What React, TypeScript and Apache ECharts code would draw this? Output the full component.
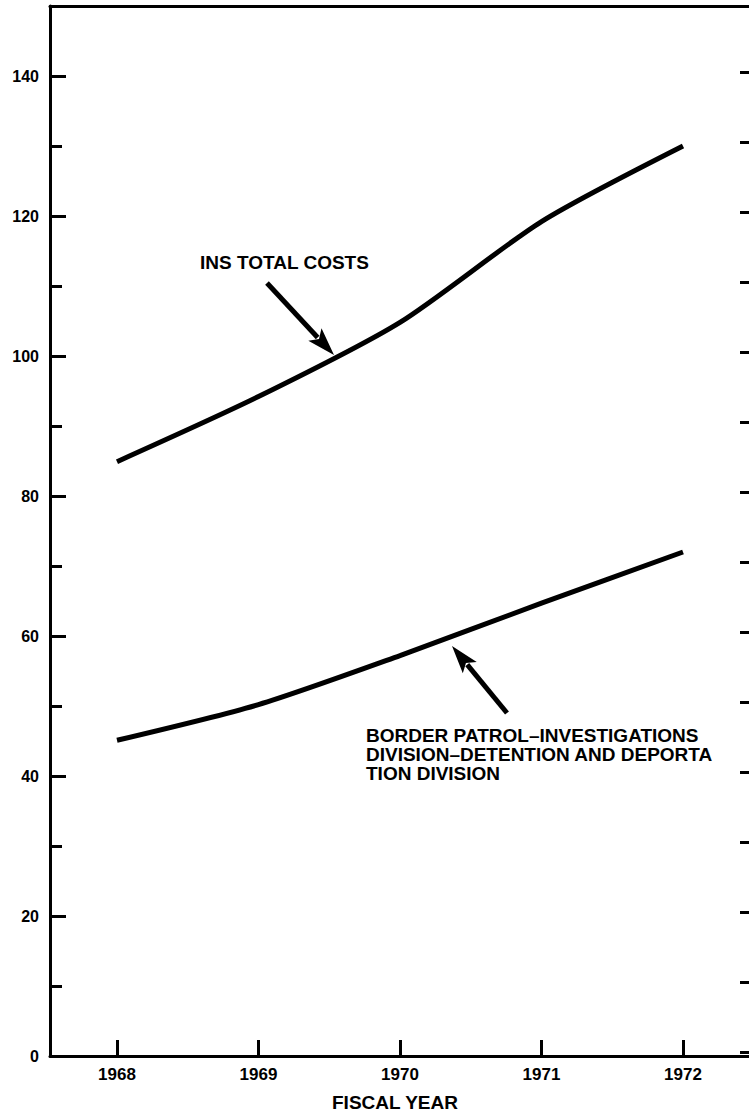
import React, { useEffect, useRef } from "react";
import * as echarts from "echarts";

const years = [1968, 1969, 1970, 1971, 1972];
const insTotalCosts = [84.9, 94.2, 104.8, 119.2, 130.0];
const borderPatrolCosts = [45.1, 50.2, 57.2, 64.7, 72.0];
const yLabelValues = [0, 20, 40, 60, 80, 100, 120, 140];

const insLabel = "INS TOTAL COSTS";
const borderLabelLines = [
  "BORDER PATROL\u2013INVESTIGATIONS",
  "DIVISION\u2013DETENTION AND DEPORTA",
  "TION DIVISION",
];

const FONT = "'Liberation Sans', Arial, sans-serif";

function arrow(tail: number[], tip: number[], headLen: number, halfW: number) {
  const dx = tip[0] - tail[0];
  const dy = tip[1] - tail[1];
  const len = Math.sqrt(dx * dx + dy * dy);
  const ux = dx / len;
  const uy = dy / len;
  const bx = tip[0] - ux * headLen;
  const by = tip[1] - uy * headLen;
  const px = -uy;
  const py = ux;
  return [
    {
      type: "line",
      shape: { x1: tail[0], y1: tail[1], x2: bx + ux * 4, y2: by + uy * 4 },
      style: { stroke: "#000", lineWidth: 5 },
    },
    {
      type: "polygon",
      shape: {
        points: [
          [tip[0], tip[1]],
          [bx + px * halfW, by + py * halfW],
          [bx + ux * 6, by + uy * 6],
          [bx - px * halfW, by - py * halfW],
        ],
      },
      style: { fill: "#000" },
    },
  ];
}

export default function App() {
  const ref = useRef<HTMLDivElement>(null);
  useEffect(() => {
    if (!ref.current) return;
    const chart = echarts.init(ref.current, null, { renderer: "svg" });
    const xMin = 1967.5265;
    const xMax = 1972.4876;
    chart.setOption({
      animation: false,
      backgroundColor: "#fff",
      grid: { left: 50, top: 6, width: 702, height: 1050, outerBoundsMode: "none", containLabel: false },
      xAxis: [
        {
          type: "value",
          min: xMin,
          max: xMax,
          splitLine: { show: false },
          axisLine: { show: true, onZero: false, lineStyle: { color: "#000", width: 3 } },
          axisTick: { show: true, inside: true, length: 16, lineStyle: { color: "#000", width: 3 } },
          axisLabel: {
            color: "#000",
            fontFamily: FONT,
            fontWeight: "bold",
            fontSize: 17,
            margin: 10,
            formatter: (v: number) =>
              years.indexOf(Math.round(v)) >= 0 && Math.abs(v - Math.round(v)) < 1e-6 ? String(Math.round(v)) : "",
          },
          name: "FISCAL YEAR",
          nameLocation: "middle",
          nameGap: 37,
          nameTextStyle: { color: "#000", fontFamily: FONT, fontWeight: "bold", fontSize: 19, padding: [0, 12, 0, 0] },
        },
        {
          type: "value",
          position: "top",
          min: xMin,
          max: xMax,
          splitLine: { show: false },
          axisLine: { show: true, onZero: false, lineStyle: { color: "#000", width: 3 } },
          axisTick: { show: false },
          axisLabel: { show: false },
        },
      ],
      yAxis: [
        {
          type: "value",
          min: 0,
          max: 150,
          interval: 20,
          splitLine: { show: false },
          axisLine: { show: true, onZero: false, lineStyle: { color: "#000", width: 3 } },
          axisTick: { show: true, inside: true, length: 16, lineStyle: { color: "#000", width: 3 } },
          minorTick: { show: true, splitNumber: 2, length: 12, lineStyle: { color: "#000", width: 3 } },
          axisLabel: {
            color: "#000",
            fontFamily: FONT,
            fontWeight: "bold",
            fontSize: 16,
            margin: 11,
            formatter: (v: number) => (yLabelValues.indexOf(v) >= 0 ? String(v) : ""),
          },
        },
        {
          type: "value",
          position: "right",
          min: -0.6,
          max: 149.4,
          splitNumber: 15,
          splitLine: { show: false },
          axisLine: { show: false, onZero: false },
          axisTick: { show: true, inside: true, length: 12, lineStyle: { color: "#000", width: 3 } },
          axisLabel: { show: false },
        },
      ],
      series: [
        {
          type: "line",
          name: insLabel,
          data: years.map((y, i) => [y, insTotalCosts[i]]),
          smooth: 0.25,
          showSymbol: false,
          lineStyle: { color: "#000", width: 5 },
        },
        {
          type: "line",
          name: "Border Patrol",
          data: years.map((y, i) => [y, borderPatrolCosts[i]]),
          smooth: 0.25,
          showSymbol: false,
          lineStyle: { color: "#000", width: 5 },
        },
      ],
      graphic: [
        {
          type: "text",
          left: 200,
          top: 253,
          style: { text: insLabel, fill: "#000", font: `bold 19px ${FONT}` },
        },
        {
          type: "text",
          left: 366,
          top: 726,
          style: {
            text: borderLabelLines.join("\n"),
            fill: "#000",
            font: `bold 19px ${FONT}`,
            lineHeight: 19,
          },
        },
        ...arrow([267, 283], [334, 355], 28, 9),
        ...arrow([507, 713], [452, 646], 28, 9),
      ],
    });
    return () => chart.dispose();
  }, []);
  return (
    <div
      ref={ref}
      style={{ position: "absolute", left: 0, top: 0, width: 749, height: 1116, background: "#fff" }}
    />
  );
}
